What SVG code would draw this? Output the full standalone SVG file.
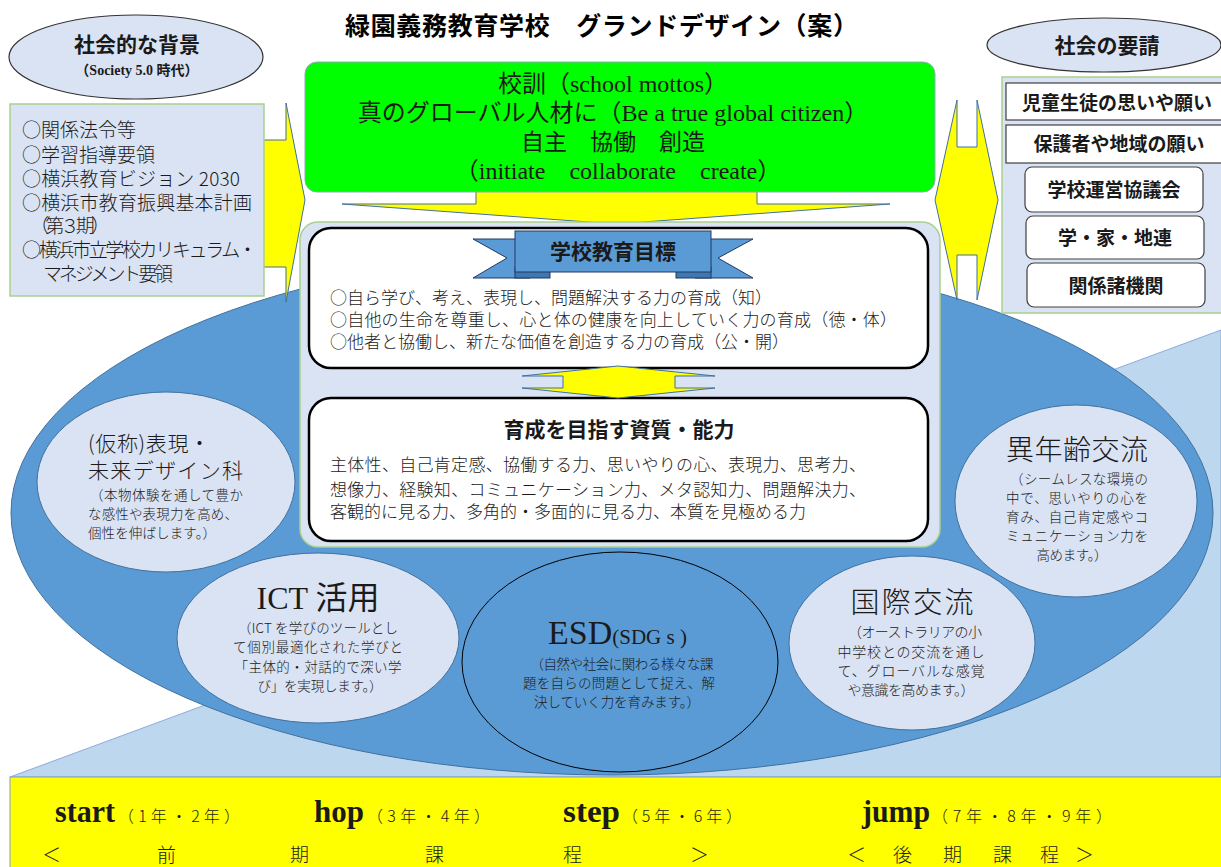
<svg xmlns="http://www.w3.org/2000/svg" width="1221" height="867" viewBox="0 0 1221 867">
<defs>
<style>
.s{font-family:'Liberation Serif','Noto Sans CJK JP',serif;fill:#1a1a1a}
.j{font-family:'Noto Sans CJK JP','Liberation Serif',sans-serif;fill:#1a1a1a;font-weight:300}
.g{font-family:'Noto Sans CJK JP',sans-serif;fill:#000;font-weight:bold}
.b{font-weight:bold}
.m{text-anchor:middle}
.lt{fill:#dae3f3;stroke:#41719c;stroke-width:1}
.pan{fill:#dae3f3;stroke:#a9d18e;stroke-width:1.5}
.arr{fill:#ffff00;stroke:#41719c;stroke-width:1}
.box{fill:#fff;stroke:#000;stroke-width:2.5}
.rb{fill:#5b9bd5;stroke:#203864;stroke-width:1}
.rbd{fill:#3f78b0;stroke:#203864;stroke-width:1}
.wb{fill:#fff;stroke:#404040;stroke-width:1.2}
</style>
</defs>
<rect width="1221" height="867" fill="#fff"/>

<g id="base">
<polygon points="10,777 1221,330 1221,777" fill="#bdd7ee" stroke="#8eaadb"/>
<ellipse cx="612" cy="513" rx="601" ry="262" fill="#5b9bd5" stroke="#41719c"/>
<rect x="10" y="777" width="1215" height="95" fill="#ffff00" stroke="#7f9fb8"/>
</g>

<g id="title">
<text class="g" x="345" y="35" font-size="25" textLength="513">緑園義務教育学校　グランドデザイン（案）</text>
</g>

<g id="connectors">
<polygon class="arr" points="250,140 286,140 286,103 305,200 286,302 286,267 250,267"/>
<polygon class="arr" points="935,200 957,100 957,147 977,147 977,100 998,200 977,300 977,255 957,255 957,300"/>
<polygon class="arr" points="476,180 757,180 757,204 890,204 616,224 342,204 476,204"/>
</g>

<g id="background-node">
<ellipse cx="136" cy="57" rx="127" ry="42" fill="#dae3f3" stroke="#333" stroke-width="1.2"/>
<text class="s b m" x="137" y="52" font-size="21">社会的な背景</text>
<text class="s b m" x="137" y="75" font-size="14">（Society 5.0 時代）</text>
<rect class="pan" x="10" y="104" width="254" height="192"/>
<text class="j" x="22" y="137" font-size="19">○関係法令等</text>
<text class="j" x="22" y="162" font-size="19">○学習指導要領</text>
<text class="j" x="22" y="186" font-size="19" textLength="218">○横浜教育ビジョン 2030</text>
<text class="j" x="22" y="210" font-size="19" textLength="230">○横浜市教育振興基本計画</text>
<text class="j" x="30" y="233" font-size="19" textLength="80">（第３期）</text>
<text class="j" x="22" y="257" font-size="19" textLength="235">○横浜市立学校カリキュラム・</text>
<text class="j" x="43" y="281" font-size="19" textLength="130">マネジメント要領</text>
</g>

<g id="demand-node">
<ellipse cx="1104" cy="45" rx="117" ry="27" fill="#dae3f3" stroke="#333" stroke-width="1.2"/>
<text class="s b m" x="1107" y="53" font-size="21">社会の要請</text>
<rect class="pan" x="1002" y="77" width="228" height="236"/>
<rect class="wb" x="1006" y="83" width="224" height="37"/>
<text class="s b m" x="1117" y="110" font-size="19">児童生徒の思いや願い</text>
<rect class="wb" x="1006" y="125" width="224" height="38"/>
<text class="s b m" x="1119" y="151" font-size="19">保護者や地域の願い</text>
<rect class="wb" x="1025" y="167" width="178" height="45" rx="7"/>
<text class="s b m" x="1114" y="197" font-size="19">学校運営協議会</text>
<rect class="wb" x="1026" y="216" width="178" height="43" rx="7"/>
<text class="s b m" x="1115" y="245" font-size="19">学・家・地連</text>
<rect class="wb" x="1027" y="263" width="178" height="44" rx="7"/>
<text class="s b m" x="1116" y="293" font-size="19">関係諸機関</text>
</g>

<g id="motto-node">
<rect x="305" y="62" width="630" height="130" rx="12" fill="#00ff00" stroke="#8eaab8"/>
<text class="s m" x="613" y="92" font-size="24">校訓（school mottos）</text>
<text class="s m" x="613" y="121" font-size="24">真のグローバル人材に（Be a true global citizen）</text>
<text class="s m" x="613" y="150" font-size="23">自主　協働　創造</text>
<text class="s m" x="618" y="179" font-size="24">（initiate　collaborate　create）</text>
</g>

<g id="center-panel">
<rect class="pan" x="300" y="222" width="640" height="325" rx="18"/>
<rect class="box" x="309" y="228" width="619" height="140" rx="22"/>
<rect class="box" x="309" y="398" width="619" height="143" rx="22"/>
<polygon class="arr" points="618,366 715,376 675,376 675,388 715,388 618,398 522,388 563,388 563,376 522,376"/>
</g>

<g id="goal-node">
<polygon class="rb" points="473,239 530,239 530,278 473,278 507,258"/>
<polygon class="rb" points="753,239 695,239 695,278 753,278 718,258"/>
<rect class="rbd" x="515" y="267" width="35" height="11"/>
<rect class="rbd" x="676" y="267" width="35" height="11"/>
<rect class="rb" x="515" y="231" width="196" height="41"/>
<text class="s b m" x="613" y="259" font-size="21">学校教育目標</text>
<text class="j" x="330" y="304" font-size="17">○自ら学び、考え、表現し、問題解決する力の育成（知）</text>
<text class="j" x="330" y="326" font-size="17" textLength="567">○自他の生命を尊重し、心と体の健康を向上していく力の育成（徳・体）</text>
<text class="j" x="330" y="348" font-size="17">○他者と協働し、新たな価値を創造する力の育成（公・開）</text>
</g>

<g id="ability-node">
<text class="s b m" x="619" y="437" font-size="21">育成を目指す資質・能力</text>
<text class="j" x="330" y="471" font-size="17" textLength="536">主体性、自己肯定感、協働する力、思いやりの心、表現力、思考力、</text>
<text class="j" x="330" y="496" font-size="17" textLength="536">想像力、経験知、コミュニケーション力、メタ認知力、問題解決力、</text>
<text class="j" x="330" y="518" font-size="17">客観的に見る力、多角的・多面的に見る力、本質を見極める力</text>
</g>

<g id="design-node">
<ellipse class="lt" cx="166" cy="482" rx="129" ry="90"/>
<text class="j" x="88" y="451" font-size="21" textLength="122">(仮称)表現・</text>
<text class="j" x="88" y="478" font-size="21" textLength="155">未来デザイン科</text>
<text class="j" x="90" y="500" font-size="13.5" textLength="153">（本物体験を通して豊か</text>
<text class="j" x="88" y="519" font-size="13.5" textLength="150">な感性や表現力を高め、</text>
<text class="j" x="88" y="538" font-size="13.5" textLength="128">個性を伸ばします。）</text>
</g>

<g id="ict-node">
<ellipse class="lt" cx="318" cy="638" rx="141" ry="85"/>
<text class="s m" x="318" y="609" font-size="32">ICT 活用</text>
<text class="j m" x="318" y="633" font-size="13.5" textLength="160">（ICT を学びのツールとし</text>
<text class="j m" x="318" y="652" font-size="13.5" textLength="170">て個別最適化された学びと</text>
<text class="j m" x="318" y="672" font-size="13.5" textLength="167">「主体的・対話的で深い学</text>
<text class="j m" x="320" y="691" font-size="13.5" textLength="125">び」を実現します。）</text>
</g>

<g id="esd-node">
<ellipse cx="620" cy="662" rx="158" ry="110" fill="#5b9bd5" stroke="#000" stroke-width="1"/>
<text class="s" x="548" y="644"><tspan font-size="34">ESD</tspan><tspan font-size="21">(SDG s )</tspan></text>
<text class="j m" x="622" y="669" font-size="13.5" textLength="183">（自然や社会に関わる様々な課</text>
<text class="j m" x="619" y="688" font-size="13.5" textLength="192">題を自らの問題として捉え、解</text>
<text class="j m" x="617" y="707" font-size="13.5" textLength="166">決していく力を育みます。）</text>
</g>

<g id="intl-node">
<ellipse class="lt" cx="912" cy="643" rx="123" ry="87"/>
<text class="j m" x="912" y="613" font-size="29" textLength="123">国際交流</text>
<text class="j m" x="915" y="637" font-size="14" textLength="134">（オーストラリアの小</text>
<text class="j m" x="911" y="657" font-size="14" textLength="147">中学校との交流を通し</text>
<text class="j m" x="911" y="676" font-size="14" textLength="147">て、グローバルな感覚</text>
<text class="j m" x="911" y="695" font-size="14" textLength="127">や意識を高めます。）</text>
</g>

<g id="age-node">
<ellipse class="lt" cx="1076" cy="501" rx="121" ry="96"/>
<text class="j m" x="1077" y="460" font-size="28" textLength="142">異年齢交流</text>
<text class="j m" x="1079" y="484" font-size="13.5" textLength="138">（シームレスな環境の</text>
<text class="j m" x="1077" y="503" font-size="13.5" textLength="142">中で、思いやりの心を</text>
<text class="j m" x="1077" y="522" font-size="13.5" textLength="142">育み、自己肯定感やコ</text>
<text class="j m" x="1077" y="541" font-size="13.5" textLength="142">ミュニケーション力を</text>
<text class="j m" x="1072" y="560" font-size="13.5" textLength="71">高めます。）</text>
</g>

<g id="stages">
<text class="s b" x="55" y="822" font-size="31" textLength="60" lengthAdjust="spacingAndGlyphs">start</text>
<text class="j" x="118" y="822" font-size="16" textLength="122">（1年・2年）</text>
<text class="s b" x="314" y="822" font-size="31" textLength="50" lengthAdjust="spacingAndGlyphs">hop</text>
<text class="j" x="367" y="822" font-size="16" textLength="123">（3年・4年）</text>
<text class="s b" x="563" y="822" font-size="31" textLength="57" lengthAdjust="spacingAndGlyphs">step</text>
<text class="j" x="622" y="822" font-size="16" textLength="120">（5年・6年）</text>
<text class="s b" x="862" y="822" font-size="31" textLength="68" lengthAdjust="spacingAndGlyphs">jump</text>
<text class="j" x="932" y="822" font-size="16" textLength="180">（7年・8年・9年）</text>
<text class="j" y="862" font-size="19" x="42 157 290 425 563 690">＜前期課程＞</text>
<text class="j" y="862" font-size="19" x="847 893 943 993 1040 1075">＜後期課程＞</text>
</g>
</svg>
